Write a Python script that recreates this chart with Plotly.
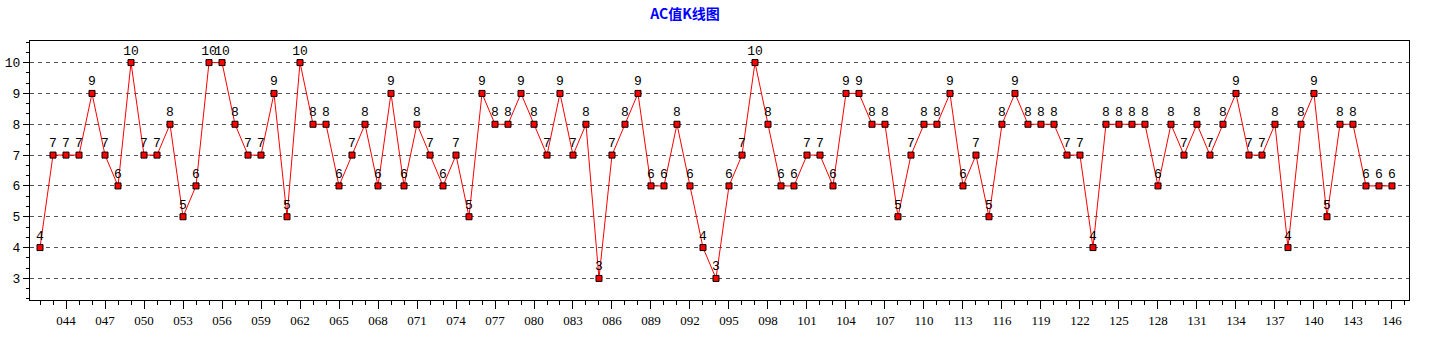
import plotly.graph_objects as go

periods = [f"{n:03d}" for n in range(42, 147)]
ac_values = [
    4, 7, 7, 7, 9, 7, 6, 10, 7, 7,      # 042-051
    8, 5, 6, 10, 10, 8, 7, 7, 9, 5,     # 052-061
    10, 8, 8, 6, 7, 8, 6, 9, 6, 8,      # 062-071
    7, 6, 7, 5, 9, 8, 8, 9, 8, 7,       # 072-081
    9, 7, 8, 3, 7, 8, 9, 6, 6, 8,       # 082-091
    6, 4, 3, 6, 7, 10, 8, 6, 6, 7,      # 092-101
    7, 6, 9, 9, 8, 8, 5, 7, 8, 8,       # 102-111
    9, 6, 7, 5, 8, 9, 8, 8, 8, 7,       # 112-121
    7, 4, 8, 8, 8, 8, 6, 8, 7, 8,       # 122-131
    7, 8, 9, 7, 7, 8, 4, 8, 9, 5,       # 132-141
    8, 8, 6, 6, 6,                      # 142-146
]
tick_labels = periods[2::3]
y_ticks = [3, 4, 5, 6, 7, 8, 9, 10]

idx = list(range(len(periods)))
tick_idx = idx[2::3]

fig = go.Figure()
fig.add_trace(go.Scatter(
    x=idx, y=ac_values,
    mode="lines+markers+text",
    text=[str(v) for v in ac_values],
    textposition="top center",
    textfont=dict(family="Liberation Mono", size=13, color="#000000"),
    line=dict(color="#FF0000", width=1),
    marker=dict(symbol="square", size=6, color="#FF0000",
                line=dict(color="#000000", width=1)),
    customdata=periods,
    hovertemplate="%{customdata}: %{y}<extra></extra>",
    cliponaxis=False,
))

fig.update_layout(
    width=1440, height=350,
    margin=dict(l=30, r=31, t=41, b=50, autoexpand=False),
    paper_bgcolor="#FFFFFF", plot_bgcolor="#FFFFFF",
    showlegend=False,
    title=dict(text="<b>AC值K线图</b>", x=685/1440, xanchor="center",
               y=1 - 14/350, yanchor="middle",
               font=dict(family="Noto Sans CJK SC", size=14, color="#0000FF")),
)
fig.update_xaxes(
    range=[-0.77, 105.31],
    tickvals=tick_idx, ticktext=tick_labels,
    ticks="outside", ticklen=8, tickcolor="#000000", tickwidth=1,
    minor=dict(dtick=1, tick0=0, ticks="outside", ticklen=4,
               tickcolor="#000000", showgrid=False),
    showgrid=False, zeroline=False, automargin=False,
    showline=True, linecolor="#000000", linewidth=1, mirror=True,
    tickfont=dict(family="Liberation Serif", size=13, color="#000000"),
)
fig.update_yaxes(
    range=[2.3, 10.7],
    tickvals=y_ticks,
    ticks="outside", ticklen=6, tickcolor="#000000", tickwidth=1,
    minor=dict(dtick=1/3, tick0=0, ticks="outside", ticklen=3,
               tickcolor="#000000", showgrid=False),
    showgrid=True, gridcolor="#555555", gridwidth=1, griddash="4px,4px",
    zeroline=False, automargin=False,
    showline=True, linecolor="#000000", linewidth=1, mirror=True,
    tickfont=dict(family="Liberation Mono", size=13, color="#000000"),
)

fig.write_html("out.html")
